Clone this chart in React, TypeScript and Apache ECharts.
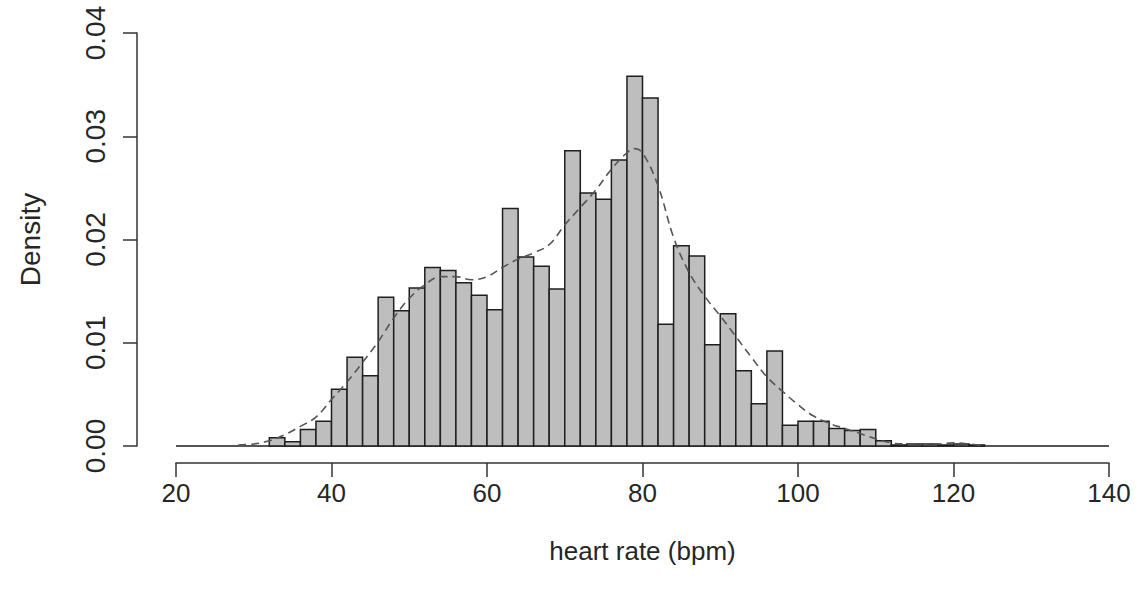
import React, { useEffect, useRef } from "react";
import * as echarts from "echarts";

// Histogram bins (left edges, width 2 bpm) and their densities
const BIN_WIDTH = 2;
const binStarts = [
  20, 22, 24, 26, 28, 30, 32, 34, 36, 38, 40, 42, 44, 46, 48, 50, 52, 54, 56, 58,
  60, 62, 64, 66, 68, 70, 72, 74, 76, 78, 80, 82, 84, 86, 88, 90, 92, 94, 96, 98,
  100, 102, 104, 106, 108, 110, 112, 114, 116, 118, 120, 122, 124, 126, 128, 130,
  132, 134, 136, 138,
];
const densities = [
  0, 0, 0, 0, 0, 0, 0.0008, 0.0004, 0.0016, 0.0024, 0.0055, 0.0086, 0.0068, 0.0144,
  0.0131, 0.0153, 0.0173, 0.017, 0.0158, 0.0146, 0.0132, 0.023, 0.0183, 0.0174,
  0.0152, 0.0286, 0.0245, 0.0239, 0.0277, 0.0358, 0.0337, 0.0118, 0.0194, 0.0184,
  0.0098, 0.0128, 0.0073, 0.0041, 0.0092, 0.002, 0.0024, 0.0024, 0.0017, 0.0015,
  0.0016, 0.0005, 0.0001, 0.0002, 0.0002, 0.0001, 0.0002, 0.0001, 0, 0, 0, 0, 0, 0,
  0, 0,
];

// Kernel density estimate (dashed curve)
const kdeX = [
  28, 30, 32, 34, 36, 38, 40, 42, 44, 46, 48, 50, 52, 54, 56, 58, 60, 62, 64, 66,
  68, 70, 72, 74, 76, 78, 79, 80, 82, 84, 86, 88, 90, 92, 94, 96, 98, 100, 102, 104,
  106, 108, 110, 112, 114, 116, 118, 120, 122, 124,
];
const kdeY = [
  0.0001, 0.0002, 0.0005, 0.0011, 0.0019, 0.0028, 0.0045, 0.0062, 0.0081, 0.0101,
  0.0124, 0.0143, 0.0156, 0.0164, 0.0164, 0.0161, 0.0164, 0.0173, 0.0181, 0.0187,
  0.0195, 0.0214, 0.0231, 0.0248, 0.0268, 0.0284, 0.0288, 0.0284, 0.0252, 0.0202,
  0.0168, 0.0145, 0.0126, 0.0106, 0.0086, 0.0067, 0.0053, 0.004, 0.0029, 0.0022,
  0.0017, 0.0012, 0.0007, 0.0003, 0.0002, 0.0002, 0.0002, 0.0003, 0.0002, 0.0,
];

const xTicks = { min: 20, max: 140, step: 20 };
const yTicks = { min: 0, max: 0.04, step: 0.01 };

const FONT = "'Liberation Sans', Arial, Helvetica, sans-serif";
const TEXT = "#262626";
const FS_X = 26;
const FS_Y = 28;

export default function App() {
  const ref = useRef<HTMLDivElement>(null);

  useEffect(() => {
    if (!ref.current) return;
    const chart = echarts.init(ref.current, undefined, { renderer: "svg" });

    const histData = binStarts.map((b, i) => [b, densities[i]]);
    const kdeData = kdeX.map((x, i) => [x, kdeY[i]]);
    const baseData = [
      [binStarts[0], 0],
      [binStarts[binStarts.length - 1] + BIN_WIDTH, 0],
    ];

    chart.setOption({
      animation: false,
      backgroundColor: "#ffffff",
      textStyle: { fontFamily: FONT },
      grid: { left: 176, right: 31, top: 33, bottom: 152, containLabel: false },
      xAxis: {
        type: "value",
        min: xTicks.min,
        max: xTicks.max,
        interval: xTicks.step,
        offset: 17,
        axisLine: { show: true, onZero: false, lineStyle: { color: "#333", width: 1.5 } },
        axisTick: { show: true, length: 14, lineStyle: { color: "#333", width: 1.5 } },
        axisLabel: { color: TEXT, fontSize: FS_X, fontFamily: FONT, margin: 17 },
        splitLine: { show: false },
        name: "heart rate (bpm)",
        nameLocation: "middle",
        nameGap: 75,
        nameTextStyle: { color: TEXT, fontSize: FS_X, fontFamily: FONT },
      },
      yAxis: {
        type: "value",
        min: yTicks.min,
        max: yTicks.max,
        interval: yTicks.step,
        offset: 39,
        axisLine: { show: true, lineStyle: { color: "#333", width: 1.5 } },
        axisTick: { show: true, length: 14, lineStyle: { color: "#333", width: 1.5 } },
        axisLabel: {
          color: TEXT,
          fontSize: FS_Y,
          fontFamily: FONT,
          rotate: 90,
          margin: 28,
          formatter: (v: number) => v.toFixed(2),
        },
        splitLine: { show: false },
        name: "Density",
        nameLocation: "middle",
        nameRotate: 90,
        nameGap: 93,
        nameTextStyle: { color: TEXT, fontSize: FS_Y, fontFamily: FONT },
      },
      series: [
        {
          type: "line",
          data: baseData,
          showSymbol: false,
          lineStyle: { color: "#555", width: 2 },
          z: 1,
        },
        {
          type: "custom",
          data: histData,
          encode: { x: 0, y: 1 },
          z: 2,
          renderItem: (params: any, api: any) => {
            const x0 = api.value(0);
            const h = api.value(1);
            if (!h) return null;
            const p0 = api.coord([x0, h]);
            const p1 = api.coord([x0 + BIN_WIDTH, 0]);
            return {
              type: "rect",
              shape: { x: p0[0], y: p0[1], width: p1[0] - p0[0], height: p1[1] - p0[1] },
              style: { fill: "#bebebe", stroke: "#1e1e1e", lineWidth: 1.5 },
            };
          },
        },
        {
          type: "line",
          data: kdeData,
          smooth: 0.4,
          showSymbol: false,
          lineStyle: { color: "#555", width: 1.6, type: [8, 5] },
          z: 3,
        },
      ],
    });

    return () => chart.dispose();
  }, []);

  return (
    <div
      ref={ref}
      style={{ position: "fixed", left: 0, top: 0, width: 1140, height: 598, background: "#fff" }}
    />
  );
}
